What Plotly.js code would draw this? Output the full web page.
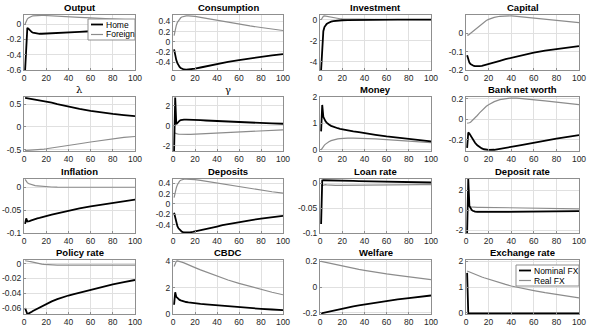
<!DOCTYPE html>
<html><head><meta charset="utf-8">
<script src="https://cdn.plot.ly/plotly-3.0.1.min.js"></script>
<style>html,body{margin:0;padding:0;background:#fff}#chart{width:600px;height:332px}</style>
</head><body><div id="chart"></div>
<script>
// ---- data ----
const periods = [1,2,3,4,5,6,7,8,10,12,14,16,18,20,25,30,35,40,45,50,60,70,80,90,100];
const panelTitles = ['Output','Consumption','Investment','Capital','λ','γ','Money','Bank net worth',
  'Inflation','Deposits','Loan rate','Deposit rate','Policy rate','CBDC','Welfare','Exchange rate'];
const seriesNames = ['Home','Foreign'];
const fxNames = ['Nominal FX','Real FX'];
const xTicks = [0,20,40,60,80,100];

const outputHome = [-0.6,-0.2,-0.05,-0.06,-0.08,-0.095,-0.105,-0.112,-0.12,-0.125,-0.127,-0.127,-0.126,-0.125,-0.121,-0.117,-0.113,-0.109,-0.105,-0.101,-0.094,-0.087,-0.081,-0.076,-0.071];
const outputForeign = [0,0.04,0.065,0.08,0.09,0.097,0.102,0.106,0.11,0.112,0.113,0.113,0.112,0.111,0.108,0.104,0.1,0.096,0.092,0.088,0.08,0.072,0.065,0.058,0.052];
const consHome = [-0.15,-0.27,-0.36,-0.42,-0.465,-0.495,-0.515,-0.53,-0.545,-0.55,-0.548,-0.543,-0.536,-0.528,-0.506,-0.482,-0.459,-0.437,-0.416,-0.396,-0.36,-0.326,-0.296,-0.268,-0.243];
const consForeign = [0.12,0.24,0.32,0.38,0.42,0.45,0.47,0.485,0.5,0.507,0.508,0.506,0.502,0.497,0.48,0.46,0.44,0.42,0.4,0.38,0.345,0.31,0.28,0.25,0.22];
const invHome = [-4.8,-2.2,-1.1,-0.7,-0.5,-0.4,-0.33,-0.27,-0.19,-0.14,-0.11,-0.08,-0.065,-0.05,-0.03,-0.02,-0.015,-0.01,-0.01,-0.005,0,0,0,0,0];
const invForeign = [0,0.2,0.32,0.36,0.34,0.3,0.26,0.23,0.18,0.15,0.12,0.1,0.09,0.08,0.06,0.05,0.04,0.035,0.03,0.025,0.02,0.015,0.01,0.01,0.01];
const capHome = [-0.12,-0.145,-0.16,-0.168,-0.173,-0.176,-0.178,-0.179,-0.18,-0.179,-0.177,-0.174,-0.171,-0.168,-0.159,-0.15,-0.141,-0.133,-0.125,-0.118,-0.105,-0.094,-0.085,-0.077,-0.07];
const capForeign = [-0.01,-0.01,-0.005,0,0.005,0.01,0.016,0.022,0.033,0.044,0.054,0.063,0.07,0.076,0.087,0.093,0.095,0.095,0.093,0.09,0.084,0.077,0.07,0.064,0.058];
const lambdaHome = [0.64,0.636,0.632,0.628,0.624,0.62,0.616,0.612,0.604,0.596,0.588,0.58,0.572,0.564,0.535,0.505,0.475,0.447,0.421,0.397,0.355,0.318,0.287,0.261,0.24];
const lambdaForeign = [-0.52,-0.519,-0.518,-0.517,-0.516,-0.515,-0.513,-0.511,-0.507,-0.503,-0.498,-0.493,-0.487,-0.481,-0.465,-0.448,-0.43,-0.411,-0.391,-0.371,-0.331,-0.293,-0.259,-0.231,-0.21];
const gammaHome = [-2.5,2.8,0.15,0.3,0.42,0.5,0.55,0.58,0.6,0.6,0.6,0.59,0.58,0.57,0.55,0.52,0.49,0.46,0.43,0.4,0.35,0.3,0.26,0.23,0.2];
const gammaForeign = [-0.7,-0.75,-0.78,-0.8,-0.82,-0.83,-0.84,-0.85,-0.86,-0.86,-0.855,-0.85,-0.84,-0.83,-0.81,-0.78,-0.75,-0.72,-0.69,-0.66,-0.6,-0.54,-0.49,-0.44,-0.4];
const moneyHome = [0.7,1.7,1.25,1.15,1.08,1.03,0.99,0.96,0.91,0.87,0.84,0.82,0.8,0.78,0.74,0.7,0.67,0.63,0.6,0.57,0.51,0.46,0.41,0.36,0.32];
const moneyForeign = [0,0.07,0.13,0.18,0.22,0.26,0.29,0.31,0.35,0.38,0.4,0.42,0.43,0.44,0.45,0.45,0.445,0.44,0.43,0.42,0.39,0.36,0.33,0.3,0.28];
const bnwHome = [-0.28,-0.13,-0.14,-0.16,-0.18,-0.2,-0.215,-0.23,-0.255,-0.272,-0.285,-0.293,-0.298,-0.3,-0.298,-0.29,-0.28,-0.27,-0.26,-0.25,-0.228,-0.208,-0.19,-0.172,-0.155];
const bnwForeign = [-0.04,-0.04,-0.035,-0.03,-0.02,-0.01,0,0.01,0.035,0.06,0.085,0.105,0.125,0.14,0.17,0.19,0.2,0.205,0.204,0.2,0.19,0.178,0.165,0.152,0.14];
const inflHome = [-0.08,-0.068,-0.075,-0.075,-0.074,-0.073,-0.072,-0.071,-0.07,-0.068,-0.067,-0.066,-0.064,-0.063,-0.06,-0.057,-0.054,-0.051,-0.049,-0.046,-0.042,-0.038,-0.034,-0.03,-0.027];
const inflForeign = [0.017,0.012,0.01,0.008,0.007,0.006,0.005,0.0045,0.0035,0.003,0.0025,0.002,0.0015,0.001,0.0005,0.0002,0,0,0,0,0,0,0,0,0];
const depHome = [-0.17,-0.28,-0.37,-0.43,-0.47,-0.5,-0.52,-0.535,-0.55,-0.553,-0.55,-0.545,-0.538,-0.53,-0.51,-0.485,-0.46,-0.435,-0.41,-0.39,-0.35,-0.315,-0.285,-0.255,-0.23];
const depForeign = [0.12,0.23,0.31,0.37,0.41,0.44,0.455,0.465,0.475,0.478,0.478,0.476,0.472,0.467,0.452,0.435,0.416,0.397,0.378,0.36,0.325,0.292,0.262,0.234,0.208];
const loanHome = [-0.082,0.006,0.0065,0.0065,0.0065,0.0065,0.0064,0.0064,0.0063,0.0062,0.0061,0.006,0.0059,0.0058,0.0055,0.0052,0.0049,0.0046,0.0043,0.004,0.0035,0.003,0.0026,0.0022,0.0019];
const loanForeign = [-0.005,-0.004,-0.003,-0.0025,-0.0025,-0.0027,-0.003,-0.0032,-0.0035,-0.0037,-0.0038,-0.0038,-0.0038,-0.0038,-0.0037,-0.0036,-0.0035,-0.0034,-0.0033,-0.0032,-0.003,-0.0028,-0.0026,-0.0024,-0.0022];
const drateHome = [-2.3,3.1,0.4,0.15,0,-0.08,-0.13,-0.16,-0.19,-0.2,-0.2,-0.2,-0.2,-0.2,-0.195,-0.19,-0.185,-0.18,-0.175,-0.17,-0.16,-0.15,-0.14,-0.13,-0.12];
const drateForeign = [0.5,0.4,0.35,0.32,0.3,0.29,0.28,0.28,0.27,0.27,0.265,0.26,0.26,0.255,0.25,0.24,0.23,0.22,0.21,0.2,0.18,0.16,0.14,0.13,0.12];
const policyHome = [-0.06,-0.066,-0.068,-0.0675,-0.067,-0.066,-0.065,-0.064,-0.0625,-0.061,-0.0595,-0.058,-0.056,-0.054,-0.051,-0.048,-0.045,-0.043,-0.041,-0.039,-0.035,-0.031,-0.028,-0.025,-0.022];
const policyForeign = [0.004,0.004,0.0038,0.0035,0.003,0.0027,0.0023,0.002,0.0012,0.0005,0,-0.0005,-0.0009,-0.0012,-0.0017,-0.0019,-0.002,-0.002,-0.002,-0.002,-0.002,-0.002,-0.002,-0.002,-0.002];
const cbdcHome = [0.7,1.65,1.3,1.2,1.12,1.07,1.03,1.0,0.95,0.91,0.88,0.85,0.83,0.81,0.77,0.73,0.69,0.65,0.61,0.58,0.51,0.45,0.39,0.34,0.3];
const cbdcForeign = [3.6,3.9,4.0,4.03,4.02,4.0,3.97,3.94,3.88,3.8,3.73,3.66,3.59,3.52,3.35,3.19,3.04,2.9,2.71,2.58,2.32,2.08,1.85,1.65,1.46];
const welfHome = [-0.205,-0.203,-0.201,-0.199,-0.197,-0.195,-0.193,-0.191,-0.187,-0.183,-0.179,-0.176,-0.172,-0.168,-0.16,-0.151,-0.143,-0.136,-0.128,-0.121,-0.109,-0.097,-0.086,-0.076,-0.066];
const welfForeign = [0.2,0.198,0.196,0.194,0.192,0.19,0.188,0.186,0.182,0.178,0.174,0.17,0.166,0.162,0.153,0.145,0.137,0.13,0.122,0.115,0.102,0.09,0.079,0.068,0.058];
const fxNominal = [1.55,-0.02,-0.03,-0.03,-0.03,-0.03,-0.03,-0.03,-0.03,-0.03,-0.03,-0.03,-0.03,-0.03,-0.03,-0.03,-0.03,-0.03,-0.03,-0.03,-0.03,-0.03,-0.03,-0.03,-0.03];
const fxReal = [1.62,1.6,1.58,1.56,1.54,1.52,1.5,1.48,1.45,1.42,1.39,1.36,1.33,1.3,1.23,1.16,1.1,1.04,0.99,0.94,0.86,0.78,0.71,0.64,0.58];

const blackSeries = [outputHome,consHome,invHome,capHome,lambdaHome,gammaHome,moneyHome,bnwHome,inflHome,depHome,loanHome,drateHome,policyHome,cbdcHome,welfHome,fxNominal];
const graySeries = [outputForeign,consForeign,invForeign,capForeign,lambdaForeign,gammaForeign,moneyForeign,bnwForeign,inflForeign,depForeign,loanForeign,drateForeign,policyForeign,cbdcForeign,welfForeign,fxReal];

const yTickVals = [[-0.6,-0.4,-0.2,0],[-0.4,-0.2,0,0.2,0.4],[-4,-2,0],[-0.2,-0.1,0],[-0.5,0,0.5],[-2,0,2],[0,1,2],[-0.2,0,0.2],
  [-0.1,-0.05,0],[-0.4,-0.2,0,0.2,0.4],[-0.1,-0.05,0],[-2,0,2],[-0.06,-0.04,-0.02,0],[0,2,4],[-0.2,0,0.2],[0,1,2]];
const yTickText = [['-0.6','-0.4','-0.2','0'],['-0.4','-0.2','0','0.2','0.4'],['-4','-2','0'],['-0.2','-0.1','0'],['-0.5','0','0.5'],['-2','0','2'],['0','1','2'],['-0.2','0','0.2'],
  ['-0.1','-0.05','0'],['-0.4','-0.2','0','0.2','0.4'],['-0.1','-0.05','0'],['-2','0','2'],['-0.06','-0.04','-0.02','0'],['0','2','4'],['-0.2','0','0.2'],['0','1','2']];
const yRanges = [[-0.6,0.118],[-0.555,0.525],[-4.8,0.45],[-0.2,0.1],[-0.53,0.66],[-2.5,2.85],[-0.04,2],[-0.31,0.215],
  [-0.1,0.018],[-0.56,0.48],[-0.1,0.009],[-2.3,3.1],[-0.068,0.005],[0,4.1],[-0.21,0.21],[-0.05,2.05]];

// ---- layout geometry (pixels) ----
const W = 600, H = 332;
const colPx = [[24,135],[173,283],[320,431],[466,579]];
const rowPx = [[15,70],[97,151],[179,233],[260,314]];
const FONT = 'Liberation Sans, Arial, sans-serif';

const traces = [];
const layout = {
  width: W, height: H, margin: {l:0,r:0,t:0,b:0},
  paper_bgcolor: '#fff', plot_bgcolor: '#fff', showlegend: false,
  font: {family: FONT, size: 8.5, color: '#262626'},
  annotations: [], shapes: []
};

for (let i = 0; i < 16; i++) {
  const r = Math.floor(i / 4), c = i % 4;
  const n = i + 1;
  const xa = n === 1 ? 'x' : 'x' + n, ya = n === 1 ? 'y' : 'y' + n;
  const xk = n === 1 ? 'xaxis' : 'xaxis' + n, yk = n === 1 ? 'yaxis' : 'yaxis' + n;
  const common = {showgrid: true, gridcolor: '#e0e0e0', gridwidth: 1, zeroline: false,
    showline: true, linecolor: '#8f8f8f', linewidth: 1, mirror: true,
    ticks: 'inside', ticklen: 2, tickcolor: '#8f8f8f',
    tickfont: {family: FONT, size: 8.5, color: '#262626'}, fixedrange: true};
  layout[xk] = Object.assign({}, common, {
    domain: [colPx[c][0] / W, colPx[c][1] / W], anchor: ya,
    range: [0, 100], tickvals: xTicks, ticktext: xTicks.map(String)
  });
  layout[yk] = Object.assign({}, common, {
    domain: [1 - rowPx[r][1] / H, 1 - rowPx[r][0] / H], anchor: xa,
    range: yRanges[i], tickvals: yTickVals[i], ticktext: yTickText[i]
  });
  const isFx = i === 15;
  traces.push({x: periods, y: graySeries[i], xaxis: xa, yaxis: ya, type: 'scatter', mode: 'lines',
    name: isFx ? fxNames[1] : seriesNames[1], line: {color: '#8c8c8c', width: 1.2}, hoverinfo: 'skip'});
  traces.push({x: periods, y: blackSeries[i], xaxis: xa, yaxis: ya, type: 'scatter', mode: 'lines',
    name: isFx ? fxNames[0] : seriesNames[0], line: {color: '#000', width: 1.8}, hoverinfo: 'skip'});
  const greek = (i === 4 || i === 5);
  layout.annotations.push({
    xref: 'paper', yref: 'paper', x: (colPx[c][0] + colPx[c][1]) / 2 / W, y: 1 - rowPx[r][0] / H,
    xanchor: 'center', yanchor: 'bottom', yshift: 0, showarrow: false,
    text: greek ? panelTitles[i] : '<b>' + panelTitles[i] + '</b>',
    font: greek ? {family: 'DejaVu Serif, serif', size: 10, color: '#000'} : {family: FONT, size: 9.5, color: '#000'}
  });
}

// manual legends (MATLAB style boxes)
function addLegend(box, names) {
  const [x0, y0, x1, y1] = box;
  layout.shapes.push({type: 'rect', xref: 'paper', yref: 'paper', x0: x0 / W, x1: x1 / W, y0: 1 - y1 / H, y1: 1 - y0 / H,
    line: {color: '#8f8f8f', width: 1}, fillcolor: '#fff', layer: 'above'});
  const colors = ['#000', '#8c8c8c'], widths = [1.8, 1.2];
  names.forEach((nm, k) => {
    const yy = y0 + 5.5 + k * 10;
    layout.shapes.push({type: 'line', xref: 'paper', yref: 'paper', x0: (x0 + 3) / W, x1: (x0 + 15) / W,
      y0: 1 - yy / H, y1: 1 - yy / H, line: {color: colors[k], width: widths[k]}, layer: 'above'});
    layout.annotations.push({xref: 'paper', yref: 'paper', x: (x0 + 16) / W, y: 1 - yy / H, xanchor: 'left', yanchor: 'middle',
      showarrow: false, text: nm, font: {family: FONT, size: 8.5, color: '#000'}});
  });
}
addLegend([88, 19, 135, 40], seriesNames);
addLegend([516, 265, 579, 286], fxNames);

Plotly.newPlot('chart', traces, layout, {staticPlot: true, displayModeBar: false});
</script></body></html>
